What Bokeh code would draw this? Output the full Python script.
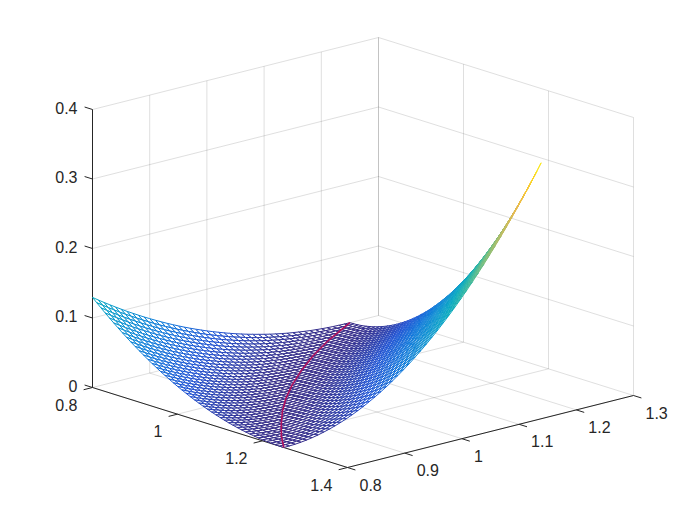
from bokeh.plotting import figure
from bokeh.models import Range1d, ColumnDataSource
from bokeh.core.properties import value
from bokeh.embed import file_html
from bokeh.resources import INLINE

# ---- chart values -------------------------------------------------------
U_TICKS = [0.8, 1.0, 1.2, 1.4]
U_LABELS = ["0.8", "1", "1.2", "1.4"]
V_TICKS = [0.8, 0.9, 1.0, 1.1, 1.2, 1.3]
V_LABELS = ["0.8", "0.9", "1", "1.1", "1.2", "1.3"]
Z_TICKS = [0.0, 0.1, 0.2, 0.3, 0.4]
Z_LABELS = ["0", "0.1", "0.2", "0.3", "0.4"]

# mesh nodes along both horizontal axes
MESH_AXIS = [0.80, 0.81, 0.82, 0.83, 0.84, 0.85, 0.86, 0.87, 0.88, 0.89, 0.90, 0.91,
             0.92, 0.93, 0.94, 0.95, 0.96, 0.97, 0.98, 0.99, 1.00, 1.01, 1.02, 1.03,
             1.04, 1.05, 1.06, 1.07, 1.08, 1.09, 1.10, 1.11, 1.12, 1.13, 1.14, 1.15,
             1.16, 1.17, 1.18, 1.19, 1.20, 1.21, 1.22, 1.23, 1.24, 1.25]

# surface height x 10000; the surface is symmetric, row i holds columns i..45
Z_ROWS = [
[1296,1239,1183,1129,1076,1024,973,924,876,829,784,740,697,655,615,576,538,502,467,433,400,369,339,310,282,256,231,207,185,164,144,125,108,92,77,64,52,41,31,23,16,10,6,3,1,0],
[1183,1128,1074,1021,970,921,872,825,779,734,691,649,609,569,531,495,459,425,392,361,331,302,275,248,224,200,178,157,137,119,102,86,72,59,47,36,27,20,13,8,4,1,0,0,2],
[1073,1020,968,918,869,821,775,730,686,644,603,564,525,488,453,419,386,354,324,295,268,241,217,193,171,150,131,113,96,81,67,54,43,32,24,16,10,6,3,1,0,1,3,6],
[968,917,867,819,772,727,683,640,599,559,520,483,447,413,380,348,318,289,261,235,211,187,165,144,125,107,91,76,62,50,39,29,21,14,8,4,2,0,0,2,4,9,14],
[867,818,771,725,680,637,595,555,516,479,443,408,375,343,313,284,256,230,205,182,160,139,120,102,86,71,58,46,35,26,18,12,7,3,1,0,1,3,6,11,17,25],
[770,724,679,635,593,552,513,475,439,404,371,339,308,279,251,225,200,177,155,135,116,98,82,67,54,42,32,23,16,10,5,2,0,0,1,4,8,14,21,29,39],
[678,634,591,550,511,473,436,401,367,335,304,275,247,221,196,173,151,130,112,94,78,64,51,39,29,21,14,8,4,1,0,0,2,5,10,16,24,33,44,56],
[591,549,509,471,434,398,364,332,301,272,244,217,192,169,147,127,108,91,75,61,48,36,27,18,12,7,3,1,0,1,3,7,12,19,28,38,49,62,77],
[509,470,433,397,363,330,299,269,241,214,189,166,144,124,105,88,72,58,45,34,25,17,10,5,2,0,0,1,4,9,15,22,31,42,54,68,83,100],
[432,396,361,328,297,267,239,212,187,163,141,121,102,85,69,55,43,32,23,15,9,4,1,0,0,2,6,10,17,25,35,46,59,74,90,107,127],
[361,328,296,266,237,210,185,161,139,119,100,83,67,53,41,30,21,14,8,4,1,0,1,3,7,12,19,28,38,50,64,79,96,114,135,156],
[296,265,236,209,184,160,138,117,98,81,65,52,39,29,20,13,7,3,1,0,1,4,8,14,22,31,42,54,69,85,102,121,142,165,189],
[236,209,183,159,136,116,97,80,64,50,38,27,19,12,6,2,0,0,1,4,9,16,24,34,45,58,73,90,108,128,150,173,198,225],
[183,158,136,115,96,79,63,49,37,26,18,11,6,2,0,0,2,5,10,17,26,36,48,62,78,95,114,135,157,181,207,235,264],
[135,114,95,78,62,48,36,26,17,10,5,2,0,0,2,6,12,19,28,39,51,66,82,100,119,141,164,189,216,244,274,306],
[95,77,62,48,35,25,16,10,5,1,0,0,3,7,13,20,30,41,54,69,86,104,124,146,170,196,224,253,284,317,352],
[61,47,35,25,16,9,4,1,0,1,3,7,14,22,31,43,57,72,89,108,129,152,176,203,231,261,293,327,363,400],
[35,24,16,9,4,1,0,1,3,8,14,23,33,45,59,75,92,112,133,157,182,209,238,269,302,336,373,411,452],
[16,9,4,1,0,1,4,8,15,24,34,47,61,77,95,115,137,161,187,215,245,276,310,345,383,422,463,506],
[4,1,0,1,4,9,16,24,35,48,63,79,98,118,141,165,192,220,251,283,317,353,392,432,474,518,564],
[0,1,4,9,16,25,36,49,64,81,100,121,144,169,196,225,256,289,324,361,400,441,484,529,576,625],
[4,9,16,25,37,50,65,82,102,123,147,172,200,229,261,294,330,368,408,449,493,539,587,637,689],
[16,26,37,50,66,84,103,125,149,175,203,233,265,299,336,374,415,457,502,548,597,648,701,756],
[37,51,66,84,104,126,151,177,205,236,269,303,340,379,421,464,509,557,607,658,712,768,827],
[67,85,105,127,152,178,207,238,272,307,344,384,426,470,516,565,615,668,723,780,839,900],
[105,128,153,180,209,240,274,310,348,388,431,475,522,571,623,676,732,790,850,912,977],
[153,180,210,241,276,312,350,391,434,480,527,577,629,683,740,799,860,923,988,1056],
[210,242,277,313,352,394,437,483,531,582,635,690,747,807,868,933,999,1068,1139],
[277,314,353,395,439,486,535,586,639,695,753,813,876,941,1009,1078,1151,1225],
[354,396,441,488,537,589,643,699,758,819,883,949,1017,1088,1161,1236,1314],
[441,488,538,590,645,702,762,824,888,955,1024,1096,1170,1246,1325,1406],
[539,591,647,704,765,827,892,960,1030,1102,1177,1255,1334,1417,1502],
[647,705,766,829,895,963,1034,1108,1183,1262,1342,1426,1512,1600],
[767,831,897,966,1037,1112,1188,1267,1349,1433,1520,1610,1702],
[898,967,1039,1114,1192,1272,1354,1439,1527,1618,1711,1806],
[1040,1116,1194,1274,1358,1444,1533,1624,1718,1815,1914],
[1194,1276,1360,1447,1537,1629,1724,1822,1922,2025],
[1361,1449,1539,1632,1728,1827,1928,2032,2139],
[1540,1634,1731,1830,1933,2038,2146,2256],
[1731,1832,1935,2041,2150,2262,2377],
[1936,2043,2153,2266,2381,2500],
[2154,2268,2384,2504,2627],
[2385,2506,2630,2756],
[2631,2758,2889],
[2890,3025],
[3164],
]

# crimson curve lying in the floor of the surface
CURVE_U = [0.80, 0.85, 0.90, 0.95, 1.00, 1.05, 1.10, 1.15, 1.20, 1.25]
CURVE_V = [1.25, 1.176, 1.111, 1.053, 1.00, 0.952, 0.909, 0.870, 0.833, 0.80]
CURVE_Z = [0, 0, 0, 0, 0, 0, 0, 0, 0, 0]

# ---- view ----------------------------------------------------------------
U0, U1, V0, V1, Z0, Z1 = 0.8, 1.4, 0.8, 1.3, 0.0, 0.4
ORIGIN = (92.0, 387.0)
U_SPAN = (255.0, 80.0)
V_SPAN = (286.0, -72.0)
Z_SPAN = -278.0


def proj(u, v, z):
    a = (u - U0) / (U1 - U0)
    b = (v - V0) / (V1 - V0)
    c = (z - Z0) / (Z1 - Z0)
    return (ORIGIN[0] + a * U_SPAN[0] + b * V_SPAN[0],
            ORIGIN[1] + a * U_SPAN[1] + b * V_SPAN[1] + c * Z_SPAN)


def depth(u, v, z):
    a = (u - U0) / (U1 - U0)
    b = (v - V0) / (V1 - V0)
    c = (z - Z0) / (Z1 - Z0)
    return 0.714 * a - 0.643 * b + 0.276 * c


PARULA = [(.2081, .1663, .5292), (.1253, .3242, .8303), (.0570, .4670, .8600),
          (.0488, .5772, .8228), (.0267, .6642, .7607), (.2000, .7213, .6300),
          (.4871, .7491, .4840), (.7184, .7411, .3905), (.9139, .7258, .3063),
          (.9880, .8066, .1794), (.9763, .9831, .0538)]


def parula(t):
    t = max(0.0, min(1.0, t)) * (len(PARULA) - 1)
    i = min(int(t), len(PARULA) - 2)
    f = t - i
    c = [PARULA[i][k] * (1 - f) + PARULA[i + 1][k] * f for k in range(3)]
    return "#%02x%02x%02x" % tuple(int(round(x * 255)) for x in c)


p = figure(width=684, height=509, x_range=Range1d(0, 684), y_range=Range1d(509, 0),
           toolbar_location=None, output_backend="svg", x_axis_type=None, y_axis_type=None,
           min_border=0, outline_line_color=None, background_fill_color="white")
p.grid.visible = False

# ---- grid ----------------------------------------------------------------
gx, gy = [], []


def seg(store_x, store_y, a, b):
    pa, pb = proj(*a), proj(*b)
    store_x.append([pa[0], pb[0]])
    store_y.append([pa[1], pb[1]])


for z in Z_TICKS[1:]:
    seg(gx, gy, (U0, V0, z), (U0, V1, z))
    seg(gx, gy, (U0, V1, z), (U1, V1, z))
for v in V_TICKS:
    seg(gx, gy, (U0, v, Z0), (U1, v, Z0))
    seg(gx, gy, (U0, v, Z0), (U0, v, Z1))
for u in U_TICKS:
    seg(gx, gy, (u, V0, Z0), (u, V1, Z0))
    seg(gx, gy, (u, V1, Z0), (u, V1, Z1))
p.multi_line(gx, gy, line_color="#262626", line_alpha=0.15, line_width=1)

# ---- axes ----------------------------------------------------------------
ax, ay = [], []
seg(ax, ay, (U0, V0, Z0), (U0, V0, Z1))
seg(ax, ay, (U0, V0, Z0), (U1, V0, Z0))
seg(ax, ay, (U1, V0, Z0), (U1, V1, Z0))
TICK = 0.031
DU, DV = TICK * (U1 - U0), TICK * (V1 - V0)
for u in U_TICKS:
    seg(ax, ay, (u, V0, Z0), (u, V0 - DV, Z0))
for v in V_TICKS:
    seg(ax, ay, (U1, v, Z0), (U1 + DU, v, Z0))
for z in Z_TICKS:
    seg(ax, ay, (U0, V0, z), (U0 - DU, V0, z))
p.multi_line(ax, ay, line_color="#262626", line_width=1)

# ---- mesh, painted far to near with white faces ---------------------------
n = len(MESH_AXIS)
Z = [[0.0] * n for _ in range(n)]
for i, row in enumerate(Z_ROWS):
    for k, val in enumerate(row):
        Z[i][i + k] = val / 10000.0
        Z[i + k][i] = val / 10000.0
zmax = max(max(r) for r in Z)

quads = []
for i in range(n - 1):
    for j in range(n - 1):
        corners = [(MESH_AXIS[i], MESH_AXIS[j], Z[i][j]),
                   (MESH_AXIS[i + 1], MESH_AXIS[j], Z[i + 1][j]),
                   (MESH_AXIS[i + 1], MESH_AXIS[j + 1], Z[i + 1][j + 1]),
                   (MESH_AXIS[i], MESH_AXIS[j + 1], Z[i][j + 1])]
        d = sum(depth(*c) for c in corners) / 4
        t = sum(c[2] for c in corners) / 4 / zmax
        quads.append((d, corners, t))
quads.sort(key=lambda q: q[0])

xs, ys, cols = [], [], []
for d, corners, t in quads:
    pts = [proj(*c) for c in corners]
    xs.append([q[0] for q in pts])
    ys.append([q[1] for q in pts])
    cols.append(parula(t))
p.patches("xs", "ys", source=ColumnDataSource(dict(xs=xs, ys=ys, c=cols)),
          fill_color="white", line_color="c", line_width=1.0)

# ---- curve -----------------------------------------------------------------
cp = [proj(u, v, z) for u, v, z in zip(CURVE_U, CURVE_V, CURVE_Z)]
p.line([q[0] for q in cp], [q[1] for q in cp], line_color="#b0105c", line_width=1.6)

# ---- tick labels -----------------------------------------------------------
FONT = value("Liberation Sans")


def labels(ticks, texts, pos, dx, dy, align):
    pts = [pos(t) for t in ticks]
    p.text([q[0] + dx for q in pts], [q[1] + dy for q in pts], text=texts,
           text_font=FONT, text_font_size="16px", text_color="#262626",
           text_align=align, text_baseline="middle")


labels(U_TICKS, U_LABELS, lambda t: proj(t, V0, Z0), -15, 17, "right")
labels(V_TICKS, V_LABELS, lambda t: proj(U1, t, Z0), 12, 17, "left")
labels(Z_TICKS, Z_LABELS, lambda t: proj(U0, V0, t), -15, -2, "right")

open("out.html", "w").write(file_html(p, INLINE))
